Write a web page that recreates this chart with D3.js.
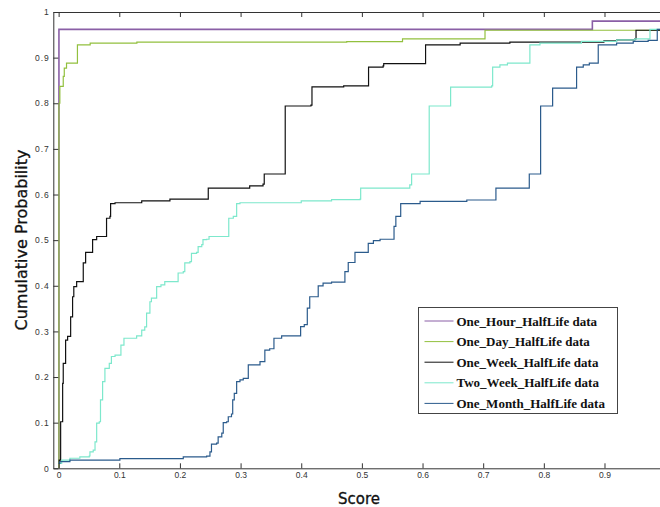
<!DOCTYPE html>
<html>
<head>
<meta charset="utf-8">
<script src="https://cdn.jsdelivr.net/npm/d3@7"></script>
<style>
  body { margin: 0; background: #fff; }
  svg { display: block; }
</style>
</head>
<body>
<div id="chart"></div>
<script>
// series names (legend order = draw order)
var seriesNames = ["One_Hour_HalfLife data", "One_Day_HalfLife data", "One_Week_HalfLife data",
                   "Two_Week_HalfLife data", "One_Month_HalfLife data"];
var seriesColors = ["#8a5fa6", "#92c03e", "#111111", "#7de8cc", "#2b5b8c"];

var xTicks = [0, 0.1, 0.2, 0.3, 0.4, 0.5, 0.6, 0.7, 0.8, 0.9];
var yTicks = [0, 0.1, 0.2, 0.3, 0.4, 0.5, 0.6, 0.7, 0.8, 0.9, 1];

// step points [score, cumulative probability] (value holds until next x)
var oneHour = [[0, 0], [0.0005, 0.962], [0.880, 0.980], [1, 0.980]];

var oneDay = [[0, 0], [0.0005, 0.800], [0.002, 0.837], [0.0076, 0.859], [0.0093, 0.877], [0.013, 0.888],
  [0.031, 0.928], [0.052, 0.932], [0.129, 0.934], [0.475, 0.935], [0.567, 0.941], [0.703, 0.960], [1, 0.960]];

var oneWeek = [[0, 0.011], [0.001, 0.018], [0.0033, 0.102], [0.0066, 0.186], [0.0076, 0.230], [0.0115, 0.281],
  [0.0148, 0.289], [0.0198, 0.332], [0.023, 0.376], [0.025, 0.398], [0.0297, 0.409], [0.0406, 0.450],
  [0.0445, 0.473], [0.056, 0.501], [0.0627, 0.508], [0.079, 0.548], [0.0846, 0.552], [0.0857, 0.580],
  [0.093, 0.582], [0.137, 0.586], [0.1835, 0.590], [0.2467, 0.614], [0.315, 0.619], [0.337, 0.623],
  [0.339, 0.645], [0.3736, 0.794], [0.416, 0.796], [0.4177, 0.836], [0.47, 0.838], [0.511, 0.879],
  [0.535, 0.882], [0.536, 0.887], [0.605, 0.928], [0.662, 0.932], [0.744, 0.934], [0.899, 0.937],
  [0.92, 0.939], [0.95, 0.941], [0.952, 0.960], [1, 0.960]];

var twoWeek = [[0, 0.011], [0.005, 0.018], [0.0186, 0.022], [0.035, 0.025], [0.0505, 0.027], [0.0516, 0.036],
  [0.057, 0.040], [0.060, 0.058], [0.0627, 0.099], [0.067, 0.102], [0.069, 0.150], [0.0725, 0.190],
  [0.0763, 0.219], [0.0835, 0.230], [0.087, 0.245], [0.093, 0.248], [0.1027, 0.270], [0.1077, 0.285],
  [0.1286, 0.290], [0.137, 0.303], [0.142, 0.310], [0.145, 0.340], [0.1505, 0.365], [0.153, 0.373],
  [0.1616, 0.398], [0.1687, 0.402], [0.175, 0.409], [0.197, 0.428], [0.2055, 0.431], [0.208, 0.450],
  [0.2165, 0.453], [0.219, 0.471], [0.2275, 0.473], [0.230, 0.486], [0.236, 0.490], [0.238, 0.501],
  [0.244, 0.502], [0.248, 0.508], [0.2805, 0.548], [0.288, 0.552], [0.2935, 0.580], [0.299, 0.582],
  [0.40, 0.586], [0.45, 0.589], [0.497, 0.590], [0.498, 0.614], [0.579, 0.621], [0.582, 0.645],
  [0.611, 0.794], [0.6463, 0.8355], [0.714, 0.838], [0.7156, 0.879], [0.7276, 0.884], [0.74, 0.888],
  [0.777, 0.928], [0.7936, 0.932], [0.862, 0.9355], [0.92, 0.939], [0.95, 0.941], [0.975, 0.962], [1, 0.962]];

var oneMonth = [[0, 0.011], [0.002, 0.0145], [0.0186, 0.018], [0.101, 0.021], [0.2055, 0.025], [0.244, 0.0265],
  [0.2495, 0.036], [0.252, 0.053], [0.2605, 0.055], [0.263, 0.069], [0.269, 0.077], [0.2714, 0.100],
  [0.277, 0.102], [0.2797, 0.113], [0.285, 0.119], [0.287, 0.150], [0.2896, 0.164], [0.2935, 0.190],
  [0.299, 0.194], [0.3044, 0.197], [0.3127, 0.2265], [0.332, 0.234], [0.340, 0.259], [0.348, 0.262],
  [0.355, 0.285], [0.3677, 0.290], [0.399, 0.3105], [0.405, 0.315], [0.410, 0.351], [0.414, 0.376],
  [0.428, 0.400], [0.436, 0.4057], [0.45, 0.408], [0.472, 0.431], [0.4775, 0.451], [0.4886, 0.473],
  [0.5105, 0.493], [0.519, 0.499], [0.53, 0.502], [0.553, 0.530], [0.556, 0.552], [0.564, 0.580],
  [0.596, 0.585], [0.673, 0.588], [0.721, 0.614], [0.776, 0.645], [0.7947, 0.794], [0.8145, 0.833],
  [0.854, 0.879], [0.865, 0.884], [0.875, 0.888], [0.8897, 0.928], [0.92, 0.932], [0.9474, 0.9355],
  [0.972, 0.9377], [0.987, 0.962], [1, 0.962]];

var allSeries = [oneHour, oneDay, oneWeek, twoWeek, oneMonth];

var W = 660, H = 507;
var plotLeft = 53.3, plotTop = 12, plotBottom = 468.3;

var x = d3.scaleLinear().domain([-0.0088, 1]).range([plotLeft, plotLeft + 1.0088 * 606.5]);
var y = d3.scaleLinear().domain([0, 1]).range([plotBottom, plotTop]);

var svg = d3.select("#chart").append("svg")
    .attr("width", W).attr("height", H)
    .style("font-family", "'Liberation Sans', Arial, sans-serif");

svg.append("rect").attr("width", W).attr("height", H).attr("fill", "#fff");

svg.append("defs").append("clipPath").attr("id", "clip")
  .append("rect").attr("x", plotLeft).attr("y", plotTop - 2)
  .attr("width", W - plotLeft).attr("height", plotBottom - plotTop + 2);

// lines
var line = d3.line()
    .x(function (d) { return x(d[0]); })
    .y(function (d) { return y(d[1]); })
    .curve(d3.curveStepAfter);

var g = svg.append("g").attr("clip-path", "url(#clip)");
allSeries.forEach(function (s, i) {
  g.append("path")
    .datum(s)
    .attr("fill", "none")
    .attr("stroke", seriesColors[i])
    .attr("stroke-width", i == 0 ? 1.6 : 1.2)
    .attr("d", line);
});

// axes (ticks inward, box on top)
var axisColor = "#333";
svg.append("g")
  .attr("transform", "translate(0," + plotBottom + ")")
  .call(d3.axisBottom(x).tickValues(xTicks).tickSizeInner(-5).tickSizeOuter(0)
        .tickFormat(function (d) { return d === 0 ? "0" : d3.format(".1f")(d); }))
  .call(function (a) {
    a.select(".domain").attr("stroke", axisColor);
    a.selectAll(".tick line").attr("stroke", axisColor);
    a.selectAll("text").attr("fill", "#333").attr("font-size", "8.5px").attr("y", 4).attr("dy", "0.71em")
      .attr("font-family", "'Liberation Sans', Arial, sans-serif");
  });

svg.append("g")
  .attr("transform", "translate(0," + plotTop + ")")
  .call(d3.axisTop(x).tickValues(xTicks).tickSizeInner(-5).tickSizeOuter(0).tickFormat(""))
  .call(function (a) {
    a.select(".domain").attr("stroke", axisColor);
    a.selectAll(".tick line").attr("stroke", axisColor);
  });

svg.append("g")
  .attr("transform", "translate(" + plotLeft + ",0)")
  .call(d3.axisLeft(y).tickValues(yTicks).tickSizeInner(-5).tickSizeOuter(0)
        .tickFormat(function (d) { return (d === 0 || d === 1) ? String(d) : d3.format(".1f")(d); }))
  .call(function (a) {
    a.select(".domain").attr("stroke", axisColor);
    a.selectAll(".tick line").attr("stroke", axisColor);
    a.selectAll("text").attr("fill", "#333").attr("font-size", "8.5px").attr("x", -3.5)
      .attr("letter-spacing", "1px")
      .attr("font-family", "'Liberation Sans', Arial, sans-serif");
  });

// axis titles
svg.append("text")
  .attr("x", 359).attr("y", 504)
  .attr("text-anchor", "middle")
  .attr("font-family", "'DejaVu Sans', sans-serif")
  .attr("font-size", "15px")
  .attr("fill", "#111").attr("stroke", "#111").attr("stroke-width", 0.3)
  .text("Score");

svg.append("text")
  .attr("transform", "translate(27,240) rotate(-90)")
  .attr("text-anchor", "middle")
  .attr("font-family", "'DejaVu Sans', sans-serif")
  .attr("font-size", "16px")
  .attr("fill", "#111").attr("stroke", "#111").attr("stroke-width", 0.3)
  .text("Cumulative Probability");

// legend
var legend = svg.append("g").attr("transform", "translate(418.5,307.5)");
legend.append("rect")
  .attr("width", 199).attr("height", 106)
  .attr("fill", "#fff").attr("stroke", "#444").attr("stroke-width", 1);

seriesNames.forEach(function (name, i) {
  var yy = 13.5 + i * 20.6;
  legend.append("line")
    .attr("x1", 6).attr("x2", 35).attr("y1", yy).attr("y2", yy)
    .attr("stroke", seriesColors[i]).attr("stroke-width", 1);
  legend.append("text")
    .attr("x", 38).attr("y", yy).attr("dy", "0.35em")
    .attr("font-family", "'Liberation Serif', 'Times New Roman', serif")
    .attr("font-weight", "bold")
    .attr("font-size", "13px")
    .attr("fill", "#111")
    .text(name);
});
</script>
</body>
</html>
